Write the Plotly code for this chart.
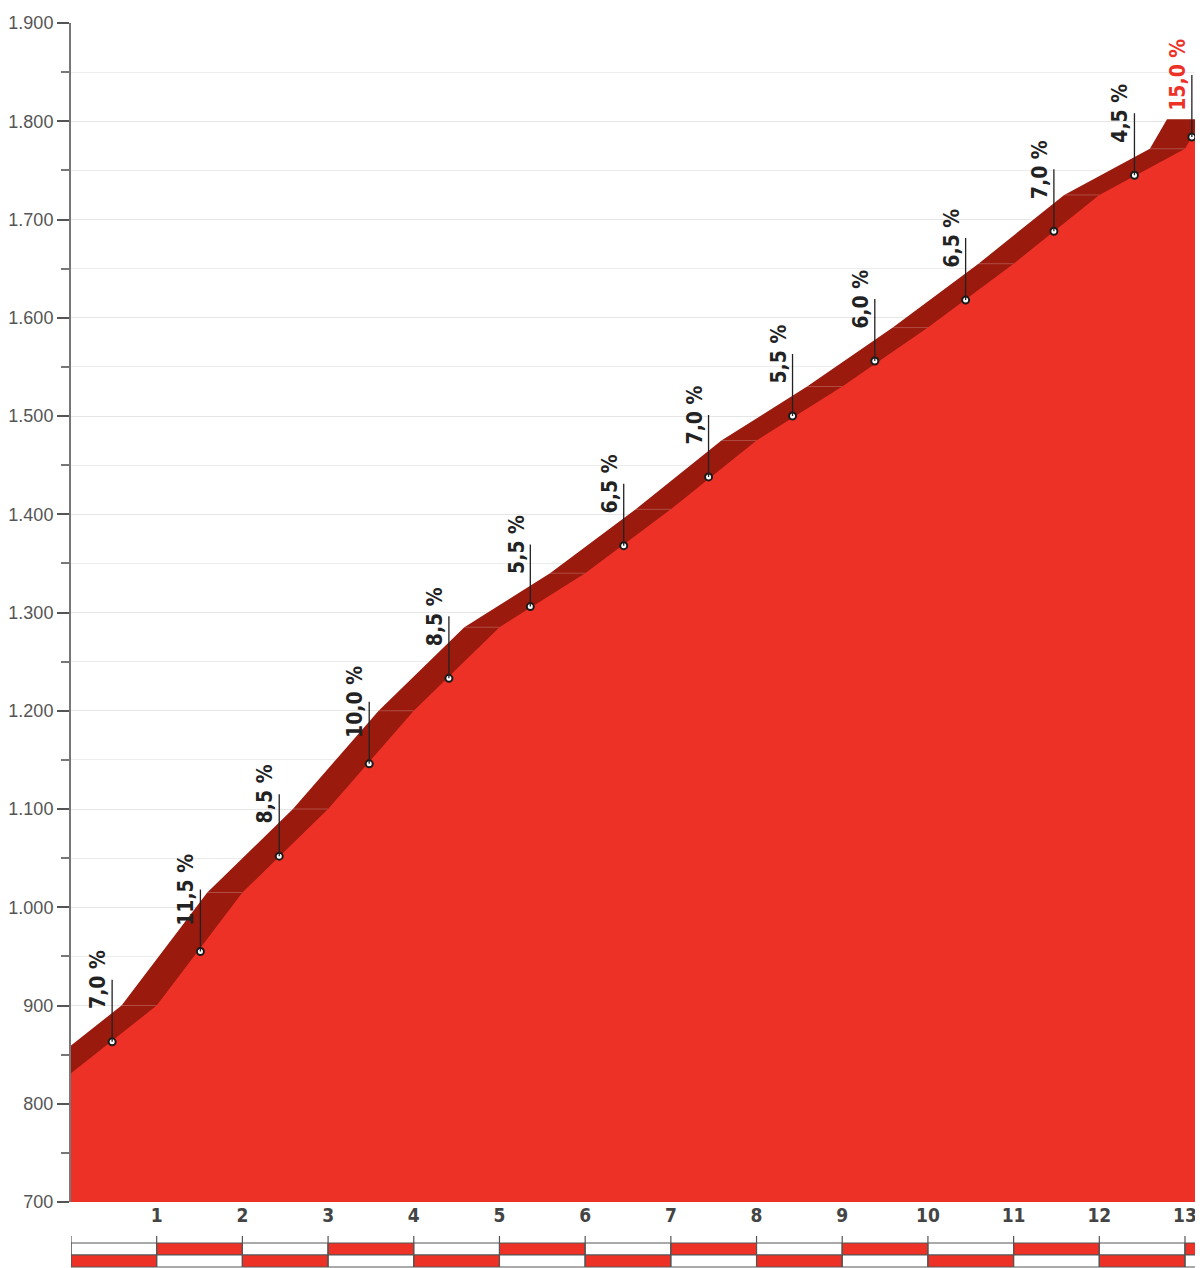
import plotly.graph_objects as go

# profile: elevation (m) at each km mark, plus the finish
km = [0, 1, 2, 3, 4, 5, 6, 7, 8, 9, 10, 11, 12, 13, 13.2]
elev = [831, 900, 1015, 1100, 1200, 1285, 1340, 1405, 1475, 1530, 1590, 1655, 1725, 1772, 1802]

# gradient labels (one per km) and where their markers sit
grade_km = [0.48, 1.51, 2.43, 3.48, 4.41, 5.36, 6.45, 7.44, 8.42, 9.38, 10.44, 11.47, 12.41, 13.08]
grade_elev = [863, 955, 1052, 1146, 1233, 1306, 1368, 1438, 1500, 1556, 1618, 1688, 1745, 1784]
grade_text = ["7,0 %", "11,5 %", "8,5 %", "10,0 %", "8,5 %", "5,5 %", "6,5 %",
              "7,0 %", "5,5 %", "6,0 %", "6,5 %", "7,0 %", "4,5 %", "15,0 %"]
grade_val = [7.0, 11.5, 8.5, 10.0, 8.5, 5.5, 6.5, 7.0, 5.5, 6.0, 6.5, 7.0, 4.5, 15.0]

RED = '#ee3127'
DARK = '#9a1a0e'
SHIFT = 0.41  # km, offset of the "top face" of the 3d band
COND = "Liberation Sans Narrow, DejaVu Sans Condensed, Roboto"

fig = go.Figure()

# dark top face: same profile moved left, flat after the summit
dark_x = [k - SHIFT for k in km] + [km[-1] + 0.05]
dark_y = elev + [elev[-1]]
fig.add_trace(go.Scatter(x=dark_x, y=dark_y, mode='lines', fill='tozeroy',
                         fillcolor=DARK, line=dict(width=0, color=DARK),
                         hoverinfo='skip', showlegend=False))

# faint face edges inside the dark band
ex, ey = [], []
for k, e in zip(km[1:-1], elev[1:-1]):
    ex += [k - SHIFT, k, None]
    ey += [e, e, None]
fig.add_trace(go.Scatter(x=ex, y=ey, mode='lines',
                         line=dict(width=1, color='rgba(255,255,255,0.22)'),
                         hoverinfo='skip', showlegend=False))

# main red profile
fig.add_trace(go.Scatter(x=km, y=elev, mode='lines', fill='tozeroy',
                         fillcolor=RED, line=dict(width=0, color=RED),
                         showlegend=False))

# markers
fig.add_trace(go.Scatter(x=grade_km, y=grade_elev, mode='markers',
                         marker=dict(size=7, color='white', line=dict(color='#1a1a1a', width=2)),
                         hoverinfo='skip', showlegend=False))

for gx, gy, t, g in zip(grade_km, grade_elev, grade_text, grade_val):
    fig.add_annotation(x=gx, y=gy, text=t, textangle=-90, showarrow=True,
                       arrowhead=0, arrowwidth=1.3, arrowcolor='#222', ax=0, ay=-62,
                       xanchor='center', yanchor='bottom',
                       font=dict(family=COND, size=21, weight='bold',
                                 color=RED if g >= 15 else '#222'))

# distance bar under the x axis
bar_marks = list(range(0, 14)) + [km[-1]]
def py(px):
    return (1202 - px) / 1179.0

for i in range(len(bar_marks) - 1):
    x0, x1 = bar_marks[i], bar_marks[i + 1]
    top_col = RED if i % 2 == 1 else 'white'
    bot_col = RED if i % 2 == 0 else 'white'
    fig.add_shape(type='rect', xref='x', yref='paper', x0=x0, x1=x1, y0=py(1255), y1=py(1243),
                  fillcolor=top_col, line=dict(color='#555', width=1), layer='above')
    fig.add_shape(type='rect', xref='x', yref='paper', x0=x0, x1=x1, y0=py(1267), y1=py(1255),
                  fillcolor=bot_col, line=dict(color='#555', width=1), layer='above')
for m in bar_marks:
    fig.add_shape(type='line', xref='x', yref='paper', x0=m, x1=m, y0=py(1267), y1=py(1236),
                  line=dict(color='#555', width=1.2), layer='above')

# page has an 8px body margin, so the figure is sized/offset for it
fig.update_layout(
    width=1195, height=1260,
    margin=dict(l=59, r=0, t=15, b=66),
    plot_bgcolor='white', paper_bgcolor='white',
    separators=',.',
    xaxis=dict(range=[0, 13.21], tickvals=list(range(1, 14)), ticktext=[str(i) for i in range(1, 14)],
               showgrid=False, zeroline=False, showline=False, ticks='',
               tickfont=dict(family=COND, size=19, weight='bold', color='#444')),
    yaxis=dict(range=[700, 1900], dtick=100, tickformat=',d', showgrid=True, gridcolor='#e6e6e6',
               gridwidth=1, zeroline=False, showline=True, linecolor='#777', linewidth=2,
               ticks='outside', ticklen=12, tickcolor='#555', tickwidth=1.5,
               tickfont=dict(family='Liberation Sans', size=18, color='#555'),
               minor=dict(dtick=50, showgrid=True, gridcolor='#ececec', ticks='outside',
                          ticklen=8, tickcolor='#777')),
)

fig.write_html("out.html")
